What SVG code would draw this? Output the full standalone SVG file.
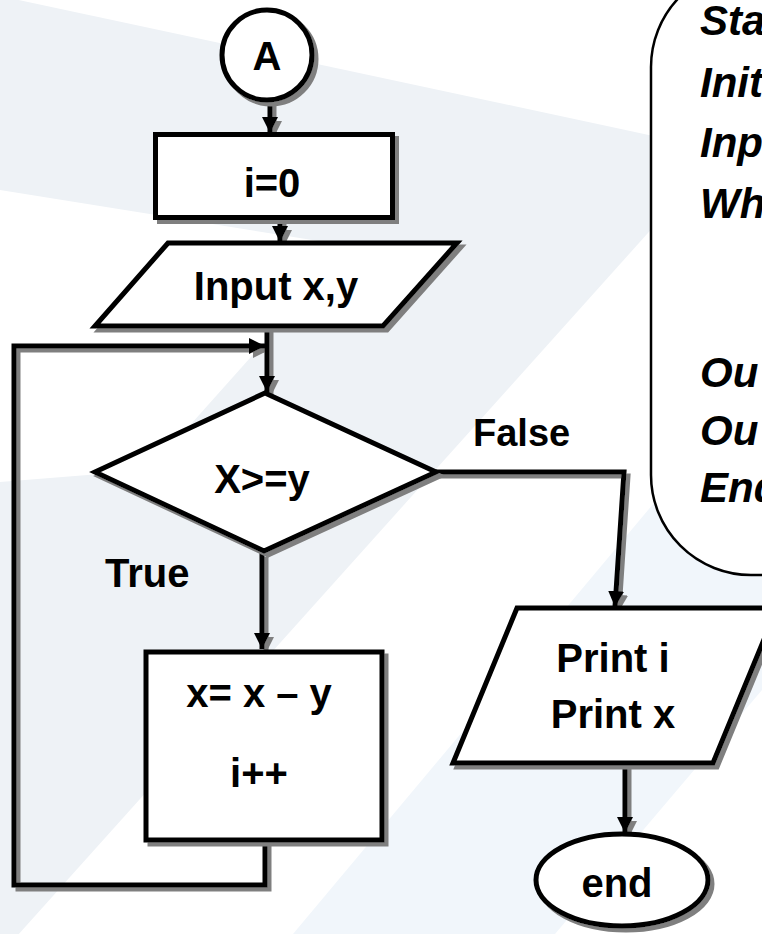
<svg xmlns="http://www.w3.org/2000/svg" width="762" height="934" viewBox="0 0 762 934">
  <defs>
    <filter id="shadow" filterUnits="userSpaceOnUse" x="-50" y="-50" width="900" height="1100">
      <feDropShadow dx="4" dy="4" stdDeviation="0.6" flood-color="#7f7f7f" flood-opacity="1"/>
    </filter>
    <marker id="arrow" markerUnits="userSpaceOnUse" markerWidth="20" markerHeight="20" refX="16" refY="8" orient="auto">
      <path d="M0,0 L16,8 L0,16 Z" fill="#000"/>
    </marker>
    <style>
      .shape { fill: #fff; stroke: #000; stroke-width: 5; stroke-linejoin: miter; }
      .wire { fill: none; stroke: #000; stroke-width: 5; stroke-linejoin: miter; }
      .lbl { font-family: "Liberation Sans", Arial, sans-serif; font-weight: bold; font-size: 40px; fill: #000; }
      .mid { text-anchor: middle; }
      .note { font-family: "Liberation Sans", Arial, sans-serif; font-weight: bold; font-style: italic; font-size: 42px; fill: #000; }
    </style>
  </defs>

  <!-- background panels -->
  <g id="bg">
    <rect x="0" y="0" width="762" height="934" fill="#ffffff"/>
    <polygon points="0,-4 700,146 700,175 0,955" fill="#eef2f6"/>
    <polygon points="0,190 350,246 150,470 0,482" fill="#ffffff"/>
    <polygon points="762,374 293,934 555,934 762,690" fill="#f1f6fb"/>
  </g>

  <!-- pseudo-code panel -->
  <g id="notes">
    <rect x="651" y="-33" width="220" height="608" rx="100" ry="100" fill="#fff" stroke="#000" stroke-width="2.5"/>
    <text class="note" x="700" y="35">Sta</text>
    <text class="note" x="700" y="97">Init</text>
    <text class="note" x="700" y="157">Inp</text>
    <text class="note" x="700" y="218">Wh</text>
    <text class="note" x="700" y="387">Ou</text>
    <text class="note" x="700" y="445">Ou</text>
    <text class="note" x="700" y="502">End</text>
  </g>

  <!-- connectors -->
  <g id="connectors" filter="url(#shadow)">
    <path class="wire" d="M270,100 V133" marker-end="url(#arrow)"/>
    <path class="wire" d="M280,219 V242" marker-end="url(#arrow)"/>
    <path class="wire" d="M267,328 V392" marker-end="url(#arrow)"/>
    <path class="wire" d="M262,553 V649" marker-end="url(#arrow)"/>
    <path class="wire" d="M265,842 V885 H14 V346 H265" marker-end="url(#arrow)"/>
    <path class="wire" d="M436,472 H624 L615,607" marker-end="url(#arrow)"/>
    <path class="wire" d="M625,765 V833" marker-end="url(#arrow)"/>
  </g>

  <g id="node-a">
    <circle class="shape" cx="267" cy="55" r="45" filter="url(#shadow)"/>
    <text class="lbl mid" x="267" y="70">A</text>
  </g>

  <g id="node-init">
    <rect class="shape" x="155.5" y="134.5" width="237" height="83" filter="url(#shadow)"/>
    <text class="lbl mid" x="272" y="197">i=0</text>
  </g>

  <g id="node-input">
    <polygon class="shape" points="168,243 457,243 383,326 95,326" filter="url(#shadow)"/>
    <text class="lbl mid" x="276" y="300">Input x,y</text>
  </g>

  <g id="node-test">
    <polygon class="shape" points="265,393 436,472 264,551 95,472" filter="url(#shadow)"/>
    <text class="lbl mid" x="262" y="493">X&gt;=y</text>
  </g>

  <g id="label-true">
    <text class="lbl" x="105" y="587">True</text>
  </g>
  <g id="label-false">
    <text class="lbl" x="473" y="446" style="font-size:38px">False</text>
  </g>

  <g id="node-body">
    <rect class="shape" x="146" y="652" width="236" height="188" filter="url(#shadow)"/>
    <text class="lbl mid" x="259" y="707">x= x – y</text>
    <text class="lbl mid" x="259" y="787">i++</text>
  </g>

  <g id="node-print">
    <polygon class="shape" points="517,608 777,608 713,763 453,763" filter="url(#shadow)"/>
    <text class="lbl mid" x="613" y="672">Print i</text>
    <text class="lbl mid" x="613" y="728">Print x</text>
  </g>

  <g id="node-end">
    <ellipse class="shape" cx="622" cy="880" rx="86" ry="46" filter="url(#shadow)"/>
    <text class="lbl mid" x="617" y="897">end</text>
  </g>
</svg>
